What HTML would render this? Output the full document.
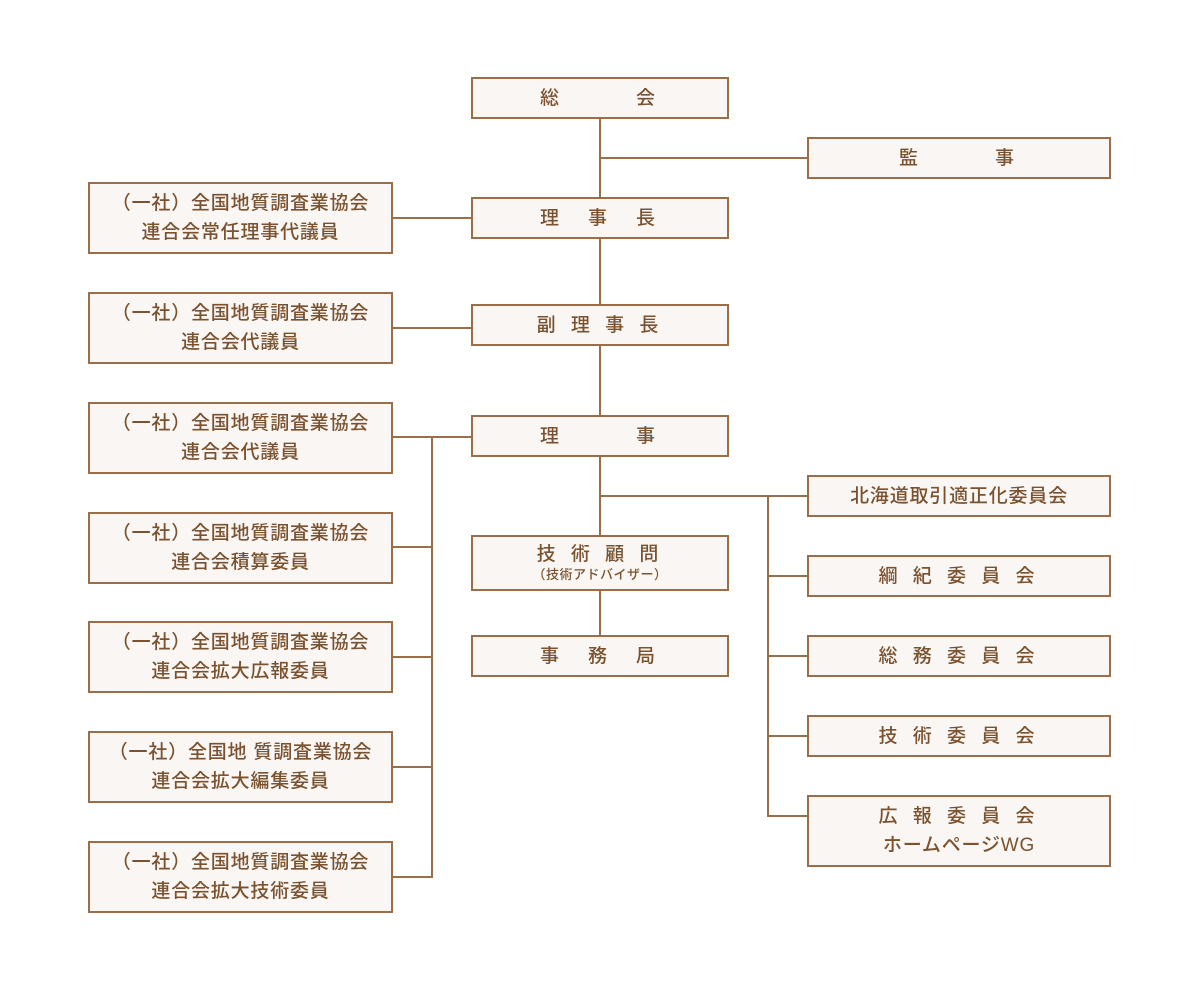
<!DOCTYPE html>
<html><head><meta charset="utf-8"><style>
body{margin:0;width:1200px;height:1000px;background:#fff;position:relative;overflow:hidden;font-family:"Liberation Sans","Noto Sans CJK JP",sans-serif;}
.b{position:absolute;box-sizing:border-box;border:2px solid #9a6e48;background:#f9f6f3;color:#7a5230;display:flex;flex-direction:column;align-items:center;justify-content:center;font-size:19px;font-weight:500;letter-spacing:0.8px;line-height:29px;text-align:center;white-space:pre;}
.w{letter-spacing:5px;}
.h{position:absolute;height:2px;background:#9a6e48;}
.v{position:absolute;width:2px;background:#9a6e48;}
small{font-size:13px;line-height:16px;letter-spacing:0.5px;}
</style></head><body>
<div class="v" style="left:599px;top:118px;height:418px"></div>
<div class="v" style="left:599px;top:590px;height:46px"></div>
<div class="h" style="left:600px;top:157px;width:208px"></div>
<div class="h" style="left:392px;top:217px;width:80px"></div>
<div class="h" style="left:392px;top:327px;width:80px"></div>
<div class="h" style="left:392px;top:436px;width:80px"></div>
<div class="v" style="left:431px;top:436px;height:442px"></div>
<div class="h" style="left:392px;top:546px;width:40px"></div>
<div class="h" style="left:392px;top:656px;width:40px"></div>
<div class="h" style="left:392px;top:766px;width:40px"></div>
<div class="h" style="left:392px;top:876px;width:40px"></div>
<div class="h" style="left:600px;top:495px;width:208px"></div>
<div class="v" style="left:767px;top:495px;height:322px"></div>
<div class="h" style="left:768px;top:575px;width:40px"></div>
<div class="h" style="left:768px;top:655px;width:40px"></div>
<div class="h" style="left:768px;top:735px;width:40px"></div>
<div class="h" style="left:768px;top:815px;width:40px"></div>

<div class="b w" style="left:471px;top:77px;width:258px;height:42px">総　　　会</div>
<div class="b w" style="left:807px;top:137px;width:304px;height:42px">監　　　事</div>
<div class="b w" style="left:471px;top:197px;width:258px;height:42px">理　事　長</div>
<div class="b w" style="left:471px;top:304px;width:258px;height:42px">副 理 事 長</div>
<div class="b w" style="left:471px;top:415px;width:258px;height:42px">理　　　事</div>
<div class="b" style="left:471px;top:535px;width:258px;height:56px"><span style="line-height:24px;letter-spacing:5px">技 術 顧 問</span><small>（技術アドバイザー）</small></div>
<div class="b w" style="left:471px;top:635px;width:258px;height:42px">事　務　局</div>

<div class="b" style="left:88px;top:182px;width:305px;height:72px">（一社）全国地質調査業協会
連合会常任理事代議員</div>
<div class="b" style="left:88px;top:292px;width:305px;height:72px">（一社）全国地質調査業協会
連合会代議員</div>
<div class="b" style="left:88px;top:402px;width:305px;height:72px">（一社）全国地質調査業協会
連合会代議員</div>
<div class="b" style="left:88px;top:512px;width:305px;height:72px">（一社）全国地質調査業協会
連合会積算委員</div>
<div class="b" style="left:88px;top:621px;width:305px;height:72px">（一社）全国地質調査業協会
連合会拡大広報委員</div>
<div class="b" style="left:88px;top:731px;width:305px;height:72px">（一社）全国地 質調査業協会
連合会拡大編集委員</div>
<div class="b" style="left:88px;top:841px;width:305px;height:72px">（一社）全国地質調査業協会
連合会拡大技術委員</div>

<div class="b" style="left:807px;top:475px;width:304px;height:42px">北海道取引適正化委員会</div>
<div class="b w" style="left:807px;top:555px;width:304px;height:42px">綱 紀 委 員 会</div>
<div class="b w" style="left:807px;top:635px;width:304px;height:42px">総 務 委 員 会</div>
<div class="b w" style="left:807px;top:715px;width:304px;height:42px">技 術 委 員 会</div>
<div class="b" style="left:807px;top:795px;width:304px;height:72px"><span style="letter-spacing:5px">広 報 委 員 会</span><span>ホームページWG</span></div>
</body></html>
